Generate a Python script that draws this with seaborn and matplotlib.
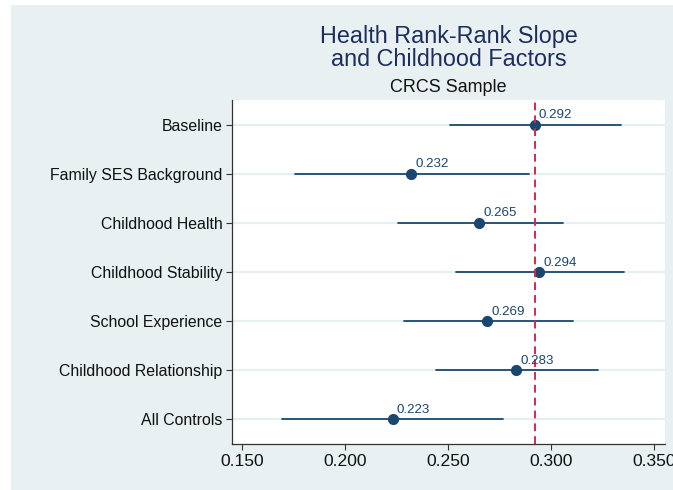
import matplotlib
matplotlib.use("Agg")
import matplotlib.pyplot as plt
from matplotlib.patches import Rectangle
import seaborn as sns
import pandas as pd

labels = ["Baseline", "Family SES Background", "Childhood Health",
          "Childhood Stability", "School Experience",
          "Childhood Relationship", "All Controls"]
estimates = [0.292, 0.232, 0.265, 0.294, 0.269, 0.283, 0.223]
ci_low = [0.2509, 0.1753, 0.2258, 0.2538, 0.2284, 0.2438, 0.1694]
ci_high = [0.3340, 0.2893, 0.3055, 0.3353, 0.3105, 0.3229, 0.2766]
xticks = [0.150, 0.200, 0.250, 0.300, 0.350]
ref_value = estimates[0]

rows = []
for lab, lo, est, hi in zip(labels, ci_low, estimates, ci_high):
    for v in (lo, est, hi):
        rows.append({"label": lab, "value": v})
df = pd.DataFrame(rows)

sns.set_theme(style="white")
plt.rcParams['font.family'] = ['Liberation Sans', 'DejaVu Sans']

BG = "#E8F0F2"
NAVY = "#1A476F"
RED = "#D42A4C"

fig = plt.figure(figsize=(6.73, 4.90), dpi=100)
fig.patch.set_facecolor(BG)
# white strips at the left and top edges of the screenshot
fig.patches.append(Rectangle((0, 0), 11 / 673, 1, transform=fig.transFigure,
                             facecolor="white", edgecolor="none", zorder=-10))
fig.patches.append(Rectangle((0, 1 - 5 / 490), 1, 5 / 490, transform=fig.transFigure,
                             facecolor="white", edgecolor="none", zorder=-10))

ax = fig.add_axes([232 / 673, 1 - 444 / 490, (665 - 232) / 673, (444 - 100) / 490])
ax.set_facecolor("white")

for i in range(len(labels)):
    ax.axhline(i, color="#E6EFF2", lw=1.6, zorder=0)

sns.pointplot(data=df, x="value", y="label", order=labels, estimator="median",
              errorbar=("pi", 100), linestyle="none", color=NAVY, markers="o",
              markersize=6.0, capsize=0, err_kws={"linewidth": 1.3}, ax=ax, zorder=3)

ax.axvline(ref_value, color=RED, lw=1.4, ls=(0, (4, 2.6)), zorder=4)

for i, est in enumerate(estimates):
    ax.annotate(f"{est:.3f}", xy=(est, i), xytext=(3, 2.5), textcoords="offset points",
                ha="left", va="bottom", fontsize=9.6, color=NAVY, zorder=5)

ax.set_xlim(0.1449, 0.3553)
ax.set_ylim(len(labels) - 0.5, -0.5)
ax.set_xticks(xticks)
ax.set_xticklabels([f"{t:.3f}" for t in xticks])
ax.set_xlabel("")
ax.set_ylabel("")
ax.tick_params(axis="both", which="major", length=4, width=0.8, color="#333333",
               labelcolor="#111111", bottom=True, left=True, pad=3)
ax.tick_params(axis="x", labelsize=12.6)
ax.tick_params(axis="y", labelsize=11.4)
for s in ("top", "right"):
    ax.spines[s].set_visible(False)
for s in ("left", "bottom"):
    ax.spines[s].set_color("#333333")
    ax.spines[s].set_linewidth(0.9)

cx = (232 + 665) / 2 / 673
fig.text(cx, 1 - 37 / 490, "Health Rank-Rank Slope", ha="center",
         va="center", fontsize=16.8, color="#1C2D5E")
fig.text(cx, 1 - 60 / 490, "and Childhood Factors", ha="center",
         va="center", fontsize=16.8, color="#1C2D5E")
fig.text(cx, 1 - 87 / 490, "CRCS Sample", ha="center", va="center", fontsize=12.9,
         color="#111111")

fig.savefig("out.png", dpi=100, facecolor=fig.get_facecolor())
